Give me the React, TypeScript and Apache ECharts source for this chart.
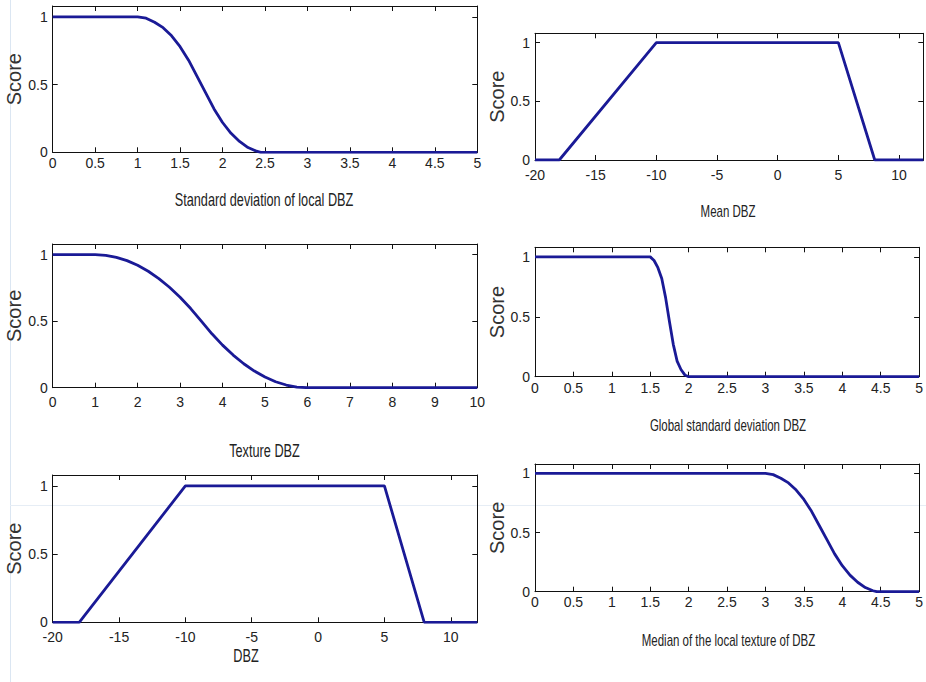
import React, { useEffect, useRef } from "react";
import * as echarts from "echarts";

// ---------- data ----------
const sdLocalX = [0, 1, 1.1, 1.2, 1.3, 1.4, 1.5, 1.6, 1.7, 1.8, 1.9, 2.0, 2.1, 2.2, 2.3, 2.4, 2.45, 5];
const sdLocalY = [1, 1, 0.99, 0.96, 0.92, 0.86, 0.78, 0.68, 0.56, 0.44, 0.32, 0.22, 0.14, 0.08, 0.035, 0.008, 0, 0];

const meanX = [-20, -18, -10, 5, 8, 12];
const meanY = [0, 0, 1, 1, 0, 0];

const textureX = [0, 1, 1.25, 1.5, 1.75, 2, 2.25, 2.5, 2.75, 3, 3.25, 3.5, 3.75, 4, 4.25, 4.5, 4.75, 5, 5.25, 5.5, 5.75, 6, 10];
const textureY = [1, 1, 0.995, 0.98, 0.955, 0.92, 0.875, 0.82, 0.755, 0.68, 0.595, 0.5, 0.405, 0.32, 0.245, 0.18, 0.125, 0.08, 0.045, 0.02, 0.005, 0, 0];

const globalSdX = [0, 1.5, 1.55, 1.6, 1.65, 1.7, 1.75, 1.8, 1.85, 1.9, 1.95, 2, 5];
const globalSdY = [1, 1, 0.97, 0.91, 0.82, 0.66, 0.46, 0.27, 0.13, 0.06, 0.015, 0, 0];

const dbzX = [-20, -18, -10, 5, 8, 12];
const dbzY = [0, 0, 1, 1, 0, 0];

const medianX = [0, 3, 3.1, 3.2, 3.3, 3.4, 3.5, 3.6, 3.7, 3.8, 3.9, 4.0, 4.1, 4.2, 4.3, 4.4, 4.45, 5];
const medianY = [1, 1, 0.99, 0.96, 0.92, 0.86, 0.78, 0.68, 0.56, 0.44, 0.32, 0.22, 0.14, 0.08, 0.035, 0.008, 0, 0];

const xTitles = [
  "Standard deviation of local DBZ",
  "Mean DBZ",
  "Texture DBZ",
  "Global standard deviation DBZ",
  "DBZ",
  "Median of the local texture of DBZ",
];
const yTitle = "Score";

// x-axis ranges: [min, max, interval]
const xRanges: [number, number, number][] = [
  [0, 5, 0.5],
  [-20, 12, 5],
  [0, 10, 1],
  [0, 5, 0.5],
  [-20, 12, 5],
  [0, 5, 0.5],
];

const seriesX = [sdLocalX, meanX, textureX, globalSdX, dbzX, medianX];
const seriesY = [sdLocalY, meanY, textureY, globalSdY, dbzY, medianY];

// ---------- layout ----------
const grids = [
  { left: 52.7, top: 6, width: 424.6, height: 146.3, yGap: 22, xm: 4, tx: 264, ty: 200, fs: 15.5 },
  { left: 535, top: 33.3, width: 388.3, height: 126.7, yGap: 10, xm: 8, tx: 728, ty: 211, fs: 14 },
  { left: 52.7, top: 244, width: 424.6, height: 143.7, yGap: 22, xm: 7, tx: 264.5, ty: 451, fs: 15.5 },
  { left: 535, top: 247.3, width: 388.3, height: 129.4, yGap: 10, xm: 4, tx: 728, ty: 425, fs: 14 },
  { left: 52.7, top: 475, width: 424.6, height: 147.3, yGap: 22, xm: 8, tx: 246, ty: 656, fs: 15.5 },
  { left: 535, top: 464, width: 388.3, height: 127.7, yGap: 10, xm: 3, tx: 728.5, ty: 640, fs: 14 },
];

const FONT = "Liberation Sans, Arial, sans-serif";
const AXIS_COLOR = "#111111";
const LINE_COLOR = "#1a1a96";
const Y_MAX = 1.08;

export default function App() {
  const ref = useRef<HTMLDivElement>(null);
  useEffect(() => {
    if (!ref.current) return;
    const chart = echarts.init(ref.current, null, { renderer: "svg" });

    const axisLine = { show: true, onZero: false, lineStyle: { color: AXIS_COLOR, width: 1 } };
    const tick = { show: true, inside: true, length: 5, lineStyle: { color: AXIS_COLOR } };

    const xAxis: any[] = [];
    const yAxis: any[] = [];
    const series: any[] = [];
    const graphic: any[] = [
      {
        type: "line",
        shape: { x1: 10.5, y1: 0, x2: 10.5, y2: 682 },
        style: { stroke: "#dbe6f2", lineWidth: 1 },
        z: -1,
      },
      {
        type: "line",
        shape: { x1: 10, y1: 505.5, x2: 926, y2: 505.5 },
        style: { stroke: "#e6edf5", lineWidth: 1 },
        z: -1,
      },
    ];

    grids.forEach((g, i) => {
      const [mn, mx, iv] = xRanges[i];
      xAxis.push({
        type: "value",
        gridIndex: i,
        position: "bottom",
        min: mn,
        max: mx,
        interval: iv,
        axisLine,
        axisTick: tick,
        splitLine: { show: false },
        axisLabel: {
          show: true,
          margin: g.xm,
          fontSize: 14,
          fontFamily: FONT,
          color: "#222",
          showMaxLabel: mx % iv === 0,
        },
      });
      xAxis.push({
        type: "value",
        gridIndex: i,
        position: "top",
        min: mn,
        max: mx,
        interval: iv,
        axisLine,
        axisTick: tick,
        splitLine: { show: false },
        axisLabel: { show: false },
      });
      yAxis.push({
        type: "value",
        gridIndex: i,
        position: "left",
        min: 0,
        max: Y_MAX,
        interval: 0.5,
        axisLine,
        axisTick: tick,
        splitLine: { show: false },
        axisLabel: {
          show: true,
          margin: 5,
          fontSize: 14,
          fontFamily: FONT,
          color: "#222",
          showMaxLabel: false,
        },
        name: yTitle,
        nameLocation: "middle",
        nameRotate: 90,
        nameGap: g.yGap,
        nameTextStyle: { fontSize: 20, fontFamily: FONT, color: "#333" },
      });
      yAxis.push({
        type: "value",
        gridIndex: i,
        position: "right",
        min: 0,
        max: Y_MAX,
        interval: 0.5,
        axisLine,
        axisTick: tick,
        splitLine: { show: false },
        axisLabel: { show: false },
      });
      const xs = seriesX[i];
      const ys = seriesY[i];
      series.push({
        type: "line",
        xAxisIndex: i * 2,
        yAxisIndex: i * 2,
        data: xs.map((x, k) => [x, ys[k]]),
        showSymbol: false,
        symbol: "none",
        lineStyle: { color: LINE_COLOR, width: 2.8 },
        z: 3,
      });
      graphic.push({
        type: "text",
        x: g.tx,
        y: g.ty,
        scaleX: 0.82,
        scaleY: 1.15,
        style: {
          text: xTitles[i],
          fontSize: g.fs,
          fontFamily: FONT,
          fill: "#222",
          textAlign: "center",
          textVerticalAlign: "middle",
        },
      });
    });

    chart.setOption({
      animation: false,
      backgroundColor: "#ffffff",
      grid: grids.map((g) => ({
        left: g.left,
        top: g.top,
        width: g.width,
        height: g.height,
        containLabel: false,
      })),
      xAxis,
      yAxis,
      series,
      graphic,
    });
    return () => chart.dispose();
  }, []);

  return (
    <div
      ref={ref}
      style={{ position: "fixed", left: 0, top: 0, width: 926, height: 682 }}
    />
  );
}
